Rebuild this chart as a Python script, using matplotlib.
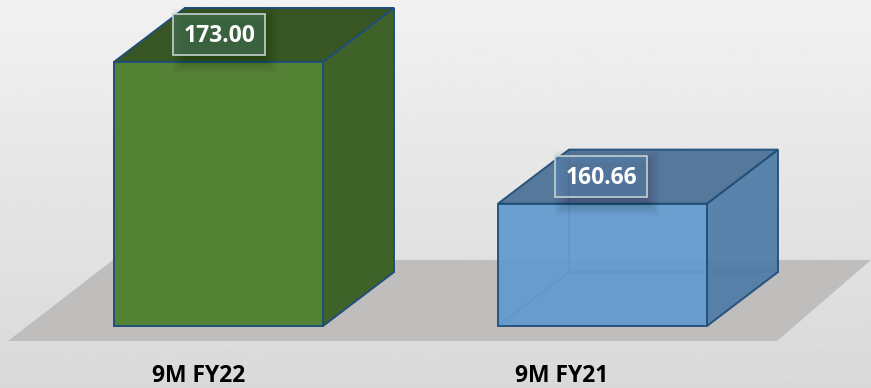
import numpy as np
import matplotlib
matplotlib.use('Agg')
import matplotlib.pyplot as plt
from matplotlib.patches import Polygon, Rectangle

categories = ['9M FY22', '9M FY21']
values = [173.00, 160.66]
value_labels = ['173.00', '160.66']

W, H = 871, 388
base = 150
bar_w = 209 / 384
# depth of the boxes in data units
dx = 71 / 384
dy = 54 / 11.48

front_cols = ['#548235', '#6399cf']
top_cols = ['#375623', '#4a7096']
side_cols = ['#3f6228', '#4f7ca8']
face_alpha = [1.0, 0.93]
edge_col = '#1f4e79'
box_cols = ['#4a7a62', '#5d8ab5']


def px(x, y):
    # pixel position to data position
    return (x - 218.5) / 384, 150 + (326 - y) / 11.48


fig = plt.figure(figsize=(W / 100, H / 100), dpi=100)
ax = fig.add_axes([0, 0, 1, 1])
x0, y0 = px(0, H)
x1, y1 = px(W, 0)

# background gradient
grad = np.linspace(0.945, 0.85, 256).reshape(-1, 1)
ax.imshow(grad, cmap='gray', vmin=0, vmax=1, extent=[x0, x1, y0, y1], aspect='auto', zorder=0)

# floor
floor = [px(8, 341), px(113, 260), px(871, 260), px(777, 341)]
ax.add_patch(Polygon(floor, closed=True, fc='#c0bdbd', ec='none', zorder=1))

x = np.arange(len(values))
for i, v in enumerate(values):
    l = x[i] - bar_w / 2
    r = x[i] + bar_w / 2
    a = face_alpha[i]
    # back edges, seen through the lighter box
    ax.plot([l + dx, l + dx, r + dx], [v + dy, base + dy, base + dy], color='#3f74a8', lw=1.2, zorder=2)
    ax.plot([l, l + dx], [base, base + dy], color='#3f74a8', lw=1.2, zorder=2)
    side = [(r, base), (r + dx, base + dy), (r + dx, v + dy), (r, v)]
    top = [(l, v), (l + dx, v + dy), (r + dx, v + dy), (r, v)]
    ax.add_patch(Polygon(side, closed=True, fc=side_cols[i], ec=edge_col, lw=1.4, alpha=a, zorder=3))
    ax.add_patch(Polygon(top, closed=True, fc=top_cols[i], ec=edge_col, lw=1.4, alpha=a, zorder=3))
    ax.bar(x[i], v - base, bottom=base, width=bar_w, color=front_cols[i], alpha=a,
           edgecolor=edge_col, linewidth=1.4, zorder=4)

    # soft shadow behind the value box
    cx, cy = 218.5 + 382 * i, 326 - (v - base) * 11.48 - 27
    for k in range(16):
        g = 30 - k * 2
        p0 = px(cx - 32 - g / 2, cy + 24 + g / 2)
        p1 = px(cx + 44 + g / 2, cy - 12 - g / 2)
        ax.add_patch(Rectangle(p0, p1[0] - p0[0], p1[1] - p0[1], fc='black', ec='none', alpha=0.012, zorder=5))

    tx, ty = px(cx + 1, cy + 1.5)
    ax.text(tx, ty, value_labels[i], color='white', fontsize=16.5, fontweight='bold', family='Open Sans',
            ha='center', va='center', zorder=7)
    p0 = px(cx - 46, cy + 20.5)
    p1 = px(cx + 46, cy - 20.5)
    ax.add_patch(Rectangle(p0, p1[0] - p0[0], p1[1] - p0[1], fc=box_cols[i], ec='none',
                           alpha=0.55, zorder=6))
    ax.add_patch(Rectangle(p0, p1[0] - p0[0], p1[1] - p0[1], fc='none', ec='#c4d2d0', lw=1.2, zorder=6))

# category labels sit left of the bar centres
for i, c in enumerate(categories):
    tx, ty = px(199 + 363 * i, 376)
    ax.text(tx, ty, c, color='black', fontsize=16.5, fontweight='bold', family='Open Sans',
            ha='center', va='center', zorder=7)

ax.set_xlim(x0, x1)
ax.set_ylim(y0, y1)
ax.axis('off')
fig.savefig('out.png', dpi=100)
